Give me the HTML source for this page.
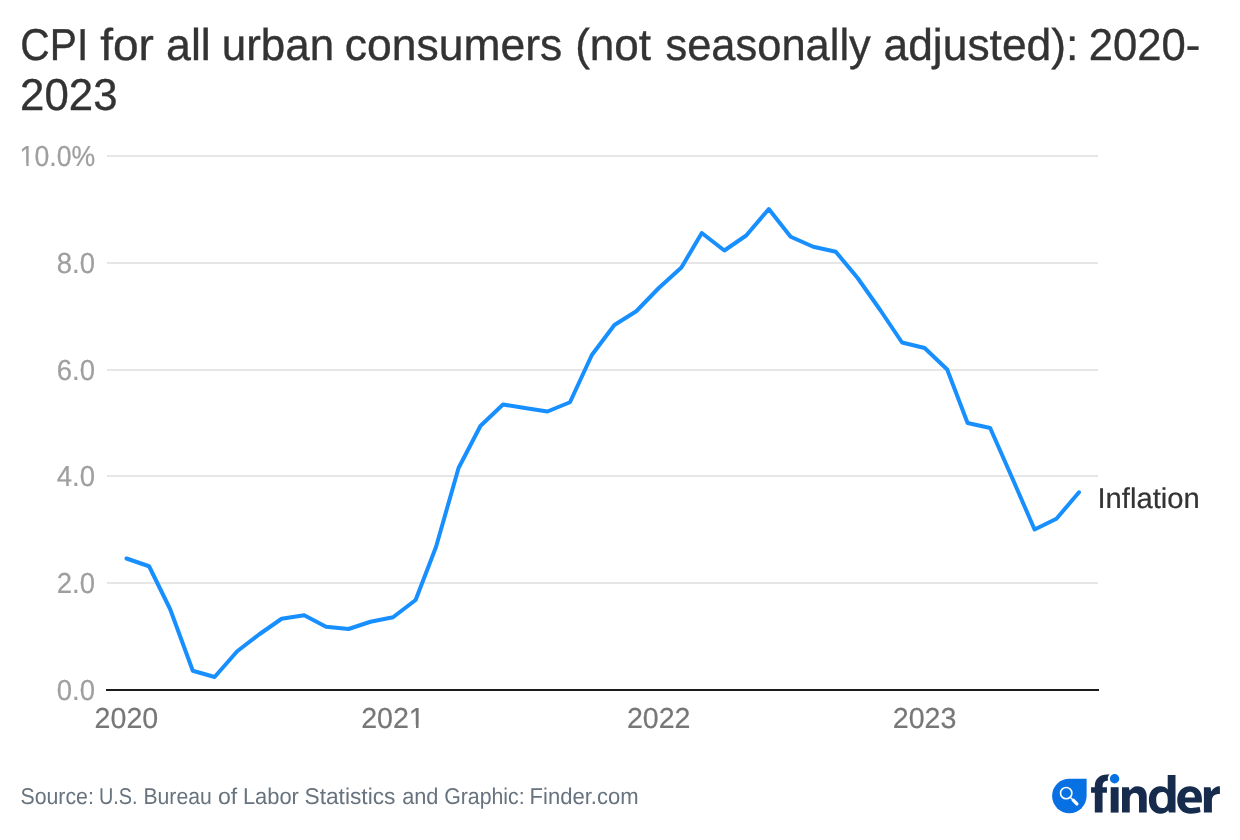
<!DOCTYPE html>
<html><head><meta charset="utf-8"><title>CPI for all urban consumers</title>
<style>
html,body{margin:0;padding:0;background:#fff;}
body{width:1240px;height:840px;overflow:hidden;}
svg{display:block;font-family:"Liberation Sans",sans-serif;opacity:0.999;will-change:transform;text-rendering:geometricPrecision;}
</style></head><body>
<svg width="1240" height="840" viewBox="0 0 1240 840">
<rect width="1240" height="840" fill="#ffffff"/>
<text transform="translate(20.36 59.60) scale(0.9119 1)" font-size="44.65" fill="#333333" stroke="#333333" stroke-width="0.36">CPI</text>
<text transform="translate(100.21 59.60) scale(1.0306 1)" font-size="44.65" fill="#333333" stroke="#333333" stroke-width="0.36">for</text>
<text transform="translate(166.00 59.60) scale(1.0027 1)" font-size="44.65" fill="#333333" stroke="#333333" stroke-width="0.36">all</text>
<text transform="translate(221.80 59.60) scale(0.9834 1)" font-size="44.65" fill="#333333" stroke="#333333" stroke-width="0.36">urban</text>
<text transform="translate(344.76 59.60) scale(0.9963 1)" font-size="44.65" fill="#333333" stroke="#333333" stroke-width="0.36">consumers</text>
<text transform="translate(575.14 59.60) scale(0.9872 1)" font-size="44.65" fill="#333333" stroke="#333333" stroke-width="0.36">(not</text>
<text transform="translate(665.45 59.60) scale(0.9735 1)" font-size="44.65" fill="#333333" stroke="#333333" stroke-width="0.36">seasonally</text>
<text transform="translate(883.51 59.60) scale(0.9941 1)" font-size="44.65" fill="#333333" stroke="#333333" stroke-width="0.36">adjusted):</text>
<text transform="translate(1088.72 59.60) scale(0.9776 1)" font-size="44.65" fill="#333333" stroke="#333333" stroke-width="0.36">2020-</text>
<text transform="translate(20.11 109.60) scale(0.9809 1)" font-size="44.65" fill="#333333" stroke="#333333" stroke-width="0.36">2023</text>
<rect x="107" y="155" width="991" height="2" fill="#e6e6e6"/>
<rect x="107" y="262" width="991" height="2" fill="#e6e6e6"/>
<rect x="107" y="369" width="991" height="2" fill="#e6e6e6"/>
<rect x="107" y="475" width="991" height="2" fill="#e6e6e6"/>
<rect x="107" y="582" width="991" height="2" fill="#e6e6e6"/>
<text transform="translate(19.60 166.10) scale(0.9204 1)" font-size="28.95" fill="#9e9fa1" stroke="#9e9fa1" stroke-width="0.23">10.0%</text>
<rect x="19.07" y="162.87" width="7.21" height="4.03" fill="#fff"/><rect x="28.67" y="162.87" width="5.05" height="4.03" fill="#fff"/>
<text transform="translate(56.73 273.10) scale(0.9494 1)" font-size="28.95" fill="#9e9fa1" stroke="#9e9fa1" stroke-width="0.23">8.0</text>
<text transform="translate(56.73 380.10) scale(0.9494 1)" font-size="28.95" fill="#9e9fa1" stroke="#9e9fa1" stroke-width="0.23">6.0</text>
<text transform="translate(56.73 486.10) scale(0.9494 1)" font-size="28.95" fill="#9e9fa1" stroke="#9e9fa1" stroke-width="0.23">4.0</text>
<text transform="translate(56.73 593.10) scale(0.9494 1)" font-size="28.95" fill="#9e9fa1" stroke="#9e9fa1" stroke-width="0.23">2.0</text>
<text transform="translate(56.73 700.10) scale(0.9494 1)" font-size="28.95" fill="#9e9fa1" stroke="#9e9fa1" stroke-width="0.23">0.0</text>
<polyline points="126.50,558.50 149.07,566.25 170.19,609.25 192.77,670.75 214.61,677.00 237.19,651.25 259.03,634.50 281.61,618.75 304.18,615.25 326.03,626.75 348.60,629.00 370.45,621.75 393.03,617.25 415.60,600.00 435.99,547.00 458.56,468.00 480.41,426.00 502.99,404.50 524.83,408.00 547.41,411.50 569.98,402.25 591.83,355.00 614.40,325.00 636.25,311.25 658.82,288.00 681.40,267.50 701.79,233.00 724.36,250.50 746.21,235.50 768.78,209.00 790.63,236.75 813.20,246.75 835.78,251.75 857.62,278.00 880.20,310.00 902.04,342.50 924.62,348.00 947.19,369.50 967.58,423.00 990.16,428.00 1012.00,477.50 1034.58,529.50 1056.43,518.75 1079.00,492.30" fill="none" stroke="#178fff" stroke-width="4" stroke-linejoin="round" stroke-linecap="round"/>
<rect x="106" y="689" width="993" height="2" fill="#1c1c1c"/>
<text transform="translate(94.62 727.80) scale(0.9871 1)" font-size="28.95" fill="#777777" stroke="#777777" stroke-width="0.23">2020</text>
<text transform="translate(361.14 727.80) scale(0.9871 1)" font-size="28.95" fill="#777777" stroke="#777777" stroke-width="0.23">2021</text>
<rect x="408.24" y="724.87" width="7.73" height="4.03" fill="#fff"/><rect x="418.54" y="724.87" width="5.41" height="4.03" fill="#fff"/>
<text transform="translate(626.94 727.80) scale(0.9871 1)" font-size="28.95" fill="#777777" stroke="#777777" stroke-width="0.23">2022</text>
<text transform="translate(892.74 727.80) scale(0.9871 1)" font-size="28.95" fill="#777777" stroke="#777777" stroke-width="0.23">2023</text>
<text transform="translate(1097.50 507.80) scale(1.0193 1)" font-size="28.65" fill="#333333" stroke="#333333" stroke-width="0.23">Inflation</text>
<text transform="translate(20.44 803.80) scale(0.9357 1)" font-size="22.76" fill="#67737e" stroke="#67737e" stroke-width="0.00">Source:</text>
<text transform="translate(98.96 803.80) scale(0.8724 1)" font-size="22.76" fill="#67737e" stroke="#67737e" stroke-width="0.00">U.S.</text>
<text transform="translate(143.45 803.80) scale(0.9315 1)" font-size="22.76" fill="#67737e" stroke="#67737e" stroke-width="0.00">Bureau</text>
<text transform="translate(217.92 803.80) scale(1.0144 1)" font-size="22.76" fill="#67737e" stroke="#67737e" stroke-width="0.00">of</text>
<text transform="translate(242.89 803.80) scale(0.9625 1)" font-size="22.76" fill="#67737e" stroke="#67737e" stroke-width="0.00">Labor</text>
<text transform="translate(304.48 803.80) scale(0.9996 1)" font-size="22.76" fill="#67737e" stroke="#67737e" stroke-width="0.00">Statistics</text>
<text transform="translate(402.18 803.80) scale(0.9559 1)" font-size="22.76" fill="#67737e" stroke="#67737e" stroke-width="0.00">and</text>
<text transform="translate(444.13 803.80) scale(0.9365 1)" font-size="22.76" fill="#67737e" stroke="#67737e" stroke-width="0.00">Graphic:</text>
<text transform="translate(529.58 803.80) scale(0.9688 1)" font-size="22.76" fill="#67737e" stroke="#67737e" stroke-width="0.00">Finder.com</text>

<path d="M1069.35 778.7 H1086.6 V795.95 A17.25 17.25 0 1 1 1069.35 778.7 Z" fill="#0771e4"/>
<circle cx="1066.2" cy="793.15" r="5.67" fill="none" stroke="#fff" stroke-width="1.6"/>
<line x1="1070.2" y1="797.2" x2="1073" y2="800" stroke="#fff" stroke-width="1.3"/>
<line x1="1073.2" y1="800.2" x2="1076.9" y2="803.9" stroke="#fff" stroke-width="3.3" stroke-linecap="round"/>
<g id="wordmark" fill="#172c4d">
<path d="M1094.8 812.6 V792.7 H1091.05 V787.2 H1094.8 V785.9 C1094.8 779 1099.6 774.4 1107.2 774.4 L1109.5 774.3 A6.7 6.7 0 0 0 1108.1 780.6 C1104.4 780.9 1102.55 782.6 1102.55 786.2 V787.2 H1106.95 V792.7 H1102.55 V812.6 Z"/>
<rect x="1110.7" y="787.2" width="7.9" height="25.4"/>
<path d="M1122 812.6 V787.2 H1128.9 L1129.6 790.6 C1131.5 788 1134 786.15 1137.4 786.15 C1143.5 786.15 1146.7 790 1146.7 796.6 V812.6 H1139 V797.8 C1139 794.6 1137.6 793 1134.9 793 C1131.6 793 1129.75 795.4 1129.75 799.5 V812.6 Z"/>
<path fill-rule="evenodd" d="M1167.7 775.1 H1175.5 V812.6 H1169 L1168.2 810.3 C1166.5 812.4 1164 813.7 1160.5 813.7 C1153.5 813.7 1148.9 808.5 1148.9 800 C1148.9 791.5 1153.5 786.2 1160.3 786.2 C1163.6 786.2 1166 787.4 1167.7 789.4 Z M1162.3 792.1 C1165.8 792.1 1167.7 794.6 1167.7 799.2 V800.9 C1167.7 805.6 1165.8 808 1162.3 808 C1158.3 808 1156.2 805.2 1156.2 800.1 C1156.2 795 1158.3 792.1 1162.3 792.1 Z"/>
<path fill-rule="evenodd" d="M1201.9 802.4 H1185 C1185.3 806 1187.7 807.9 1191.5 807.9 C1194.5 807.9 1197 807.5 1199.6 806.8 L1200.6 812.1 C1197.5 813.2 1194.5 813.7 1190.8 813.7 C1182.5 813.7 1177.2 808.6 1177.2 800 C1177.2 791.6 1182.3 786.2 1189.9 786.2 C1197.3 786.2 1201.9 791.2 1201.9 798.8 Z M1185 797.5 H1194.9 C1194.8 793.9 1193 791.8 1189.9 791.8 C1187 791.8 1185.3 794 1185 797.5 Z"/>
<path d="M1203.9 812.6 V787.2 H1210.5 L1211.3 791.4 C1213 788.2 1215.8 786.2 1219.9 786.2 V793.9 C1214.5 793.7 1211.9 796 1211.9 801 V812.6 Z"/>

</g>
<circle cx="1114.6" cy="778.7" r="4.7" fill="#0771e4"/>

</svg>
</body></html>
